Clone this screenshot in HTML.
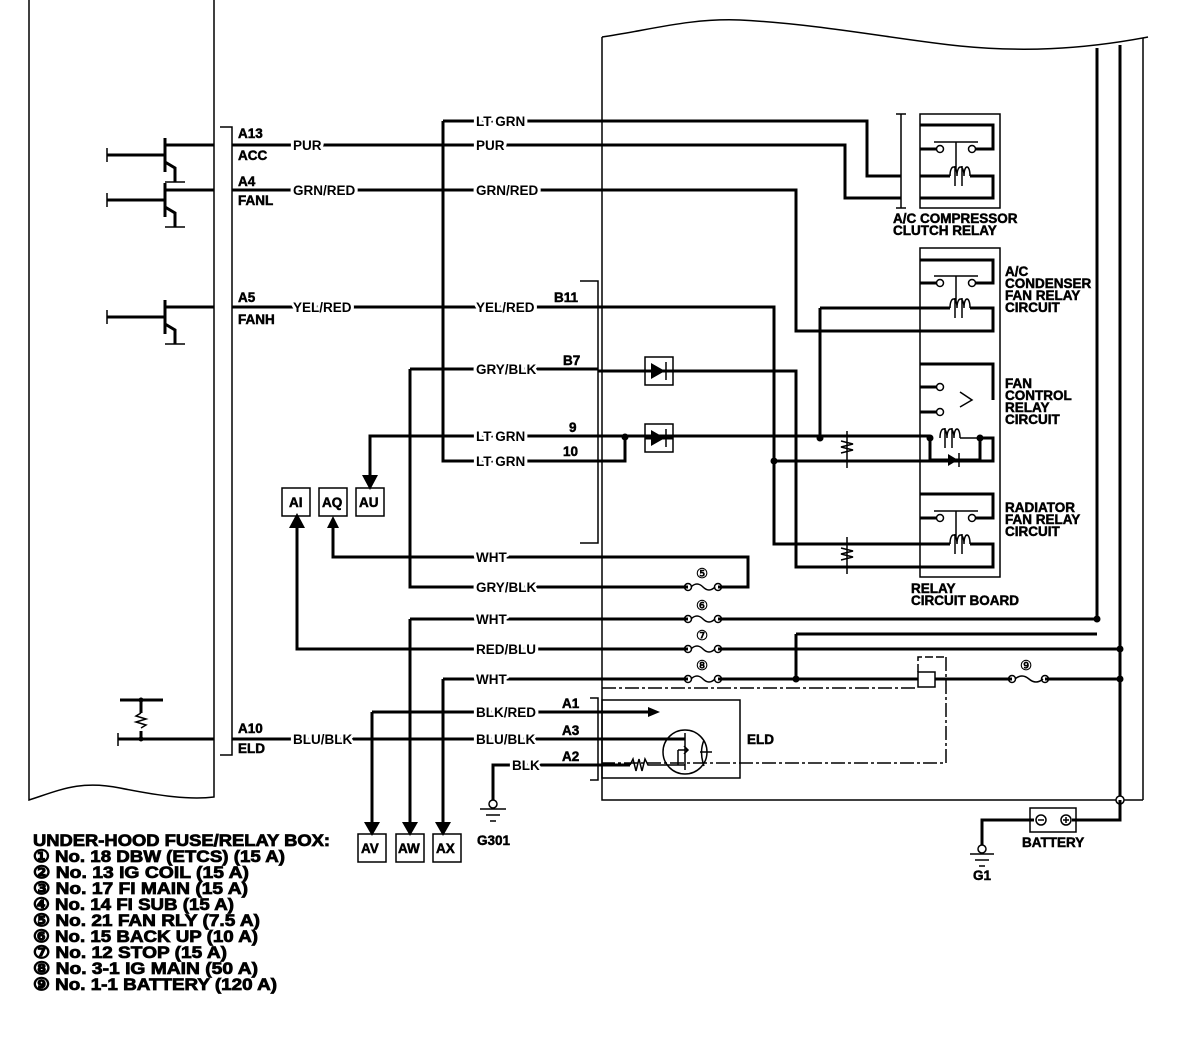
<!DOCTYPE html>
<html><head><meta charset="utf-8"><style>
html,body{margin:0;padding:0;background:#fff;width:1184px;height:1044px;overflow:hidden}
svg{display:block}
text{font-family:"Liberation Sans",Arial,sans-serif;font-weight:bold;font-size:13.5px;fill:#000}
.l{stroke:#000;stroke-width:3;fill:none}
.t{stroke:#000;stroke-width:1.5;fill:none}
.w{stroke:#fff;stroke-width:6;paint-order:stroke;stroke-linejoin:round}
.k{stroke:#000;stroke-width:0.5}
.g text{font-size:17px;stroke:#000;stroke-width:0.8}
</style></head><body>
<svg width="1184" height="1044" viewBox="0 0 1184 1044" xmlns="http://www.w3.org/2000/svg">
<!-- left module -->
<path class="t" d="M29 0 V800 C60 790 80 780 120 788 C160 796 190 800 214 797 V0"/>
<!-- connector A bracket -->
<path class="t" d="M220 127 H232 V755 H220"/>
<!-- transistors -->
<g class="l">
<path d="M107 155 H165 M165 138 V172 M165 145 L175 145 H214 M165 162 L175 168 V182"/>
<path d="M107 200 H165 M165 183 V217 M165 190 L175 190 H214 M165 207 L175 213 V227"/>
<path d="M107 317 H165 M165 300 V334 M165 307 L175 307 H214 M165 324 L175 330 V344"/>
</g>
<g class="t"><path d="M165 182 H185 M165 227 H185 M165 344 H185"/>
<path d="M107 148 V162 M107 193 V207 M107 310 V324"/></g>
<!-- ELD sensor at left -->
<path class="l" d="M120 700 H163 M141 700 V713 M141 731 V739 M118 739 H214"/>
<path class="t" d="M141 713 l-5 3 l10 3 l-10 3 l10 3 l-5 3 M118 733 V746"/>
<!-- main wires -->
<g class="l">
<path d="M232 145 H845 V198 H901"/>
<path d="M443 121 H867 V176 H901"/>
<path d="M443 121 V461 H598"/>
<path d="M232 190 H796 V331 H993 V308 H970"/>
<path d="M820 308 H950"/>
<path d="M232 307 H598"/>
<path d="M598 307 H774 V544 H950"/>
<path d="M410 369 H598 M598 371 H796 V567 H993 V544 H970"/>
<path d="M370 488 V436 H598 M598 436 H930"/>
<path d="M598 461 H625 V436"/>
<path d="M774 461 H993 V438 H980"/>
<path d="M820 308 V438"/>
<path d="M410 369 V587 H688 M718 587 H748 V557 H333 V525"/>
<path d="M410 619 H688 M718 619 H1097"/>
<path d="M410 619 V830"/>
<path d="M297 525 V649 H688 M718 649 H1120"/>
<path d="M796 634 H1097 M796 634 V679"/>
<path d="M443 679 H688 M718 679 H918 M935 679 H1012 M1045 679 H1120"/>
<path d="M443 679 V830"/>
<path d="M372 712 H598 M372 712 V830"/>
<path d="M232 739 H598"/>
<path d="M493 800 V765 H598"/>
</g>
<!-- arrowheads -->
<g fill="#000">
<polygon points="362,475 378,475 370,490"/>
<polygon points="289,528 305,528 297,513"/>
<polygon points="327,528 339,528 333,516"/>
<polygon points="364,822 380,822 372,836"/>
<polygon points="402,822 418,822 410,836"/>
<polygon points="435,822 451,822 443,836"/>
<circle cx="625" cy="437" r="3.5"/><circle cx="820" cy="438" r="3.5"/><circle cx="774" cy="461" r="3.5"/>
<circle cx="1097" cy="619" r="3.5"/><circle cx="1120" cy="649" r="3.5"/><circle cx="1120" cy="679" r="3.5"/>
<circle cx="796" cy="679" r="3.5"/><circle cx="930" cy="438" r="3.5"/><circle cx="980" cy="438" r="3.5"/>
<circle cx="141" cy="700" r="2.5"/><circle cx="141" cy="739" r="2.5"/>
</g>
<!-- fuses -->
<g class="t">
<circle cx="688" cy="587" r="3.5"/><circle cx="718" cy="587" r="3.5"/><path d="M691 587 q6 -6 12 0 q6 6 12 0"/>
<circle cx="688" cy="619" r="3.5"/><circle cx="718" cy="619" r="3.5"/><path d="M691 619 q6 -6 12 0 q6 6 12 0"/>
<circle cx="688" cy="649" r="3.5"/><circle cx="718" cy="649" r="3.5"/><path d="M691 649 q6 -6 12 0 q6 6 12 0"/>
<circle cx="688" cy="679" r="3.5"/><circle cx="718" cy="679" r="3.5"/><path d="M691 679 q6 -6 12 0 q6 6 12 0"/>
<circle cx="1012" cy="679" r="3.5"/><circle cx="1045" cy="679" r="3.5"/><path d="M1015 679 q7 -6 14 0 q7 6 14 0"/>
</g>
<g style="font-size:16px;font-weight:normal">
<text x="696" y="578">⑤</text><text x="696" y="610">⑥</text><text x="696" y="640">⑦</text><text x="696" y="670">⑧</text><text x="1020" y="670">⑨</text>
</g>
<!-- right big box -->
<path class="t" d="M602 37 C650 30 690 18 740 20 C820 24 900 40 960 46 C1020 52 1080 50 1148 37"/>
<path class="t" d="M602 37 V800 H1143"/>
<path class="l" d="M1097 48 V619 M1120 45 V800"/>
<path class="t" d="M1143 38 V800"/>
<circle cx="1120" cy="800" r="4" fill="#fff" stroke="#000" stroke-width="1.5"/>
<!-- connector B bracket -->
<path class="t" d="M580 281 H598 V543 H580"/>
<!-- diodes -->
<g>
<rect x="645" y="357" width="28" height="28" class="t" fill="#fff"/>
<path class="l" d="M645 371 H673"/><polygon points="651,363 651,379 665,371" fill="#000"/><path class="t" d="M666 362 V380"/>
<rect x="645" y="424" width="28" height="28" class="t" fill="#fff"/>
<path class="l" d="M645 438 H673"/><polygon points="651,430 651,446 665,438" fill="#000"/><path class="t" d="M666 429 V447"/>
</g>
<!-- resistors on board -->
<g class="t"><path d="M847 431 V468 M841 441 l12 3 l-12 3 l12 3 l-12 3"/>
<path d="M847 537 V574 M841 548 l12 3 l-12 3 l12 3 l-12 3"/></g>
<!-- A/C compressor relay -->
<g class="t">
<path d="M901 114 V208 M896 114 H906 M896 208 H906"/>
<rect x="920" y="114" width="80" height="94"/>
</g>
<g class="l">
<path d="M920 125 H993 V149 H976 M920 149 H937 M920 176 H950 M970 176 H993 V198 H920"/>
<path d="M920 260 H993 V283 H976 M920 283 H937"/>
<path d="M920 364 H993 V400 M920 387 H937 M920 412 H937"/>
<path d="M920 494 H993 V518 H976 M920 518 H937"/>
<path d="M930 438 V460 H980 V438"/>
</g>
<g class="t">
<circle cx="940" cy="149" r="3.5" fill="#fff"/><circle cx="972" cy="149" r="3.5" fill="#fff"/><path d="M934 142 H978 M956 142 V170"/>
<path d="M950 176 c0 -12 7 -12 7 0 c0 -12 7 -12 7 0 c0 -12 6 -12 6 0 M955 166 V186 M962 166 V186"/>
<circle cx="940" cy="283" r="3.5" fill="#fff"/><circle cx="972" cy="283" r="3.5" fill="#fff"/><path d="M934 276 H978 M956 276 V302"/>
<path d="M950 308 c0 -12 7 -12 7 0 c0 -12 7 -12 7 0 c0 -12 6 -12 6 0 M955 298 V318 M962 298 V318"/>
<circle cx="940" cy="387" r="3.5" fill="#fff"/><circle cx="940" cy="412" r="3.5" fill="#fff"/><path d="M960 392 L972 400 L960 407"/>
<path d="M940 438 c0 -12 7 -12 7 0 c0 -12 7 -12 7 0 c0 -12 6 -12 6 0 M945 428 V448 M952 428 V448"/>
<path d="M960 438 H980"/>
<circle cx="940" cy="518" r="3.5" fill="#fff"/><circle cx="972" cy="518" r="3.5" fill="#fff"/><path d="M934 511 H978 M956 511 V538"/>
<path d="M950 544 c0 -12 7 -12 7 0 c0 -12 7 -12 7 0 c0 -12 6 -12 6 0 M955 534 V554 M962 534 V554"/>
<rect x="920" y="248" width="80" height="329"/>
</g>
<polygon points="948,454 948,466 958,460" fill="#000"/><path class="t" d="M959 453 V467"/>
<!-- ELD box and dashed region -->
<path class="t" d="M590 698 H598 V780 H590"/>
<rect x="602" y="700" width="138" height="78" class="t"/>
<path class="t" d="M602 688 H918 M946 657 V763 H602" stroke-dasharray="14 3 3 3"/>
<path class="t" d="M918 672 V657 H946" stroke-dasharray="8 3"/>
<rect x="918" y="672" width="17" height="15" class="t" fill="#fff"/>
<path class="l" d="M598 712 H648 M598 739 H685 M598 765 H630"/>
<polygon points="648,707 660,712 648,717" fill="#000"/>
<path class="t" d="M630 765 l3 -6 l3 12 l3 -12 l3 12 l3 -12 l3 6 H685 M685 733 V770 M678 750 V765 M678 750 H688 M684 746 L688 750 L684 754"/>
<circle cx="685" cy="752" r="22" class="t"/>
<path class="t" d="M704 740 q-5 12 0 26 M700 752 H712"/>
<!-- grounds -->
<g class="t">
<circle cx="493" cy="804" r="4" fill="#fff"/><path d="M480 809 H506 M486 815 H500 M490 821 H496"/>
<path class="l" d="M982 845 V820 H1034 M1072 820 H1120 V800"/>
<circle cx="982" cy="849" r="4" fill="#fff"/><path d="M970 854 H994 M975 860 H989 M979 866 H985"/>
<rect x="1030" y="808" width="46" height="24"/><circle cx="1041" cy="820" r="5"/><circle cx="1066" cy="820" r="5"/>
<path d="M1038 820 H1044 M1063 820 H1069 M1066 817 V823"/>
</g>
<!-- small boxes -->
<g class="t" fill="#fff">
<rect x="282" y="488" width="28" height="28"/><rect x="319" y="488" width="28" height="28"/><rect x="356" y="488" width="28" height="28"/>
<rect x="358" y="834" width="28" height="28"/><rect x="396" y="834" width="28" height="28"/><rect x="433" y="834" width="28" height="28"/>
</g>
<g class="k">
<text x="289" y="507">AI</text><text x="322" y="507">AQ</text><text x="359" y="507">AU</text>
<text x="361" y="853">AV</text><text x="398" y="853">AW</text><text x="436" y="853">AX</text>
<text x="238" y="138">A13</text><text x="238" y="160">ACC</text>
<text x="238" y="186">A4</text><text x="238" y="205">FANL</text>
<text x="238" y="302">A5</text><text x="238" y="324">FANH</text>
<text x="238" y="733">A10</text><text x="238" y="753">ELD</text>
<text x="554" y="302">B11</text><text x="563" y="365">B7</text><text x="569" y="432">9</text><text x="563" y="456">10</text>
<text x="562" y="708">A1</text><text x="562" y="735">A3</text><text x="562" y="761">A2</text>
<text x="747" y="744">ELD</text>
<text x="477" y="845">G301</text><text x="973" y="880">G1</text><text x="1022" y="847">BATTERY</text>
<text x="893" y="223">A/C COMPRESSOR</text><text x="893" y="235">CLUTCH RELAY</text>
<text x="1005" y="276">A/C</text><text x="1005" y="288">CONDENSER</text><text x="1005" y="300">FAN RELAY</text><text x="1005" y="312">CIRCUIT</text>
<text x="1005" y="388">FAN</text><text x="1005" y="400">CONTROL</text><text x="1005" y="412">RELAY</text><text x="1005" y="424">CIRCUIT</text>
<text x="1005" y="512">RADIATOR</text><text x="1005" y="524">FAN RELAY</text><text x="1005" y="536">CIRCUIT</text>
<text x="911" y="593">RELAY</text><text x="911" y="605">CIRCUIT BOARD</text>
</g>
<!-- wire labels -->
<g class="w">
<text x="293" y="150">PUR</text><text x="293" y="195">GRN/RED</text><text x="293" y="312">YEL/RED</text><text x="293" y="744">BLU/BLK</text>
<text x="476" y="126">LT GRN</text><text x="476" y="150">PUR</text><text x="476" y="195">GRN/RED</text><text x="476" y="312">YEL/RED</text>
<text x="476" y="374">GRY/BLK</text><text x="476" y="441">LT GRN</text><text x="476" y="466">LT GRN</text>
<text x="476" y="562">WHT</text><text x="476" y="592">GRY/BLK</text><text x="476" y="624">WHT</text><text x="476" y="654">RED/BLU</text><text x="476" y="684">WHT</text>
<text x="476" y="717">BLK/RED</text><text x="476" y="744">BLU/BLK</text><text x="512" y="770">BLK</text>
</g>
<!-- legend -->
<g class="g">
<text x="33" y="846" textLength="297" lengthAdjust="spacingAndGlyphs">UNDER-HOOD FUSE/RELAY BOX:</text>
<text x="33" y="862" textLength="252" lengthAdjust="spacingAndGlyphs">① No. 18 DBW (ETCS) (15 A)</text>
<text x="33" y="878" textLength="216" lengthAdjust="spacingAndGlyphs">② No. 13 IG COIL (15 A)</text>
<text x="33" y="894" textLength="215" lengthAdjust="spacingAndGlyphs">③ No. 17 FI MAIN (15 A)</text>
<text x="33" y="910" textLength="201" lengthAdjust="spacingAndGlyphs">④ No. 14 FI SUB (15 A)</text>
<text x="33" y="926" textLength="227" lengthAdjust="spacingAndGlyphs">⑤ No. 21 FAN RLY (7.5 A)</text>
<text x="33" y="942" textLength="225" lengthAdjust="spacingAndGlyphs">⑥ No. 15 BACK UP (10 A)</text>
<text x="33" y="958" textLength="194" lengthAdjust="spacingAndGlyphs">⑦ No. 12 STOP (15 A)</text>
<text x="33" y="974" textLength="225" lengthAdjust="spacingAndGlyphs">⑧ No. 3-1 IG MAIN (50 A)</text>
<text x="33" y="990" textLength="244" lengthAdjust="spacingAndGlyphs">⑨ No. 1-1 BATTERY (120 A)</text>
</g>
</svg>
</body></html>
